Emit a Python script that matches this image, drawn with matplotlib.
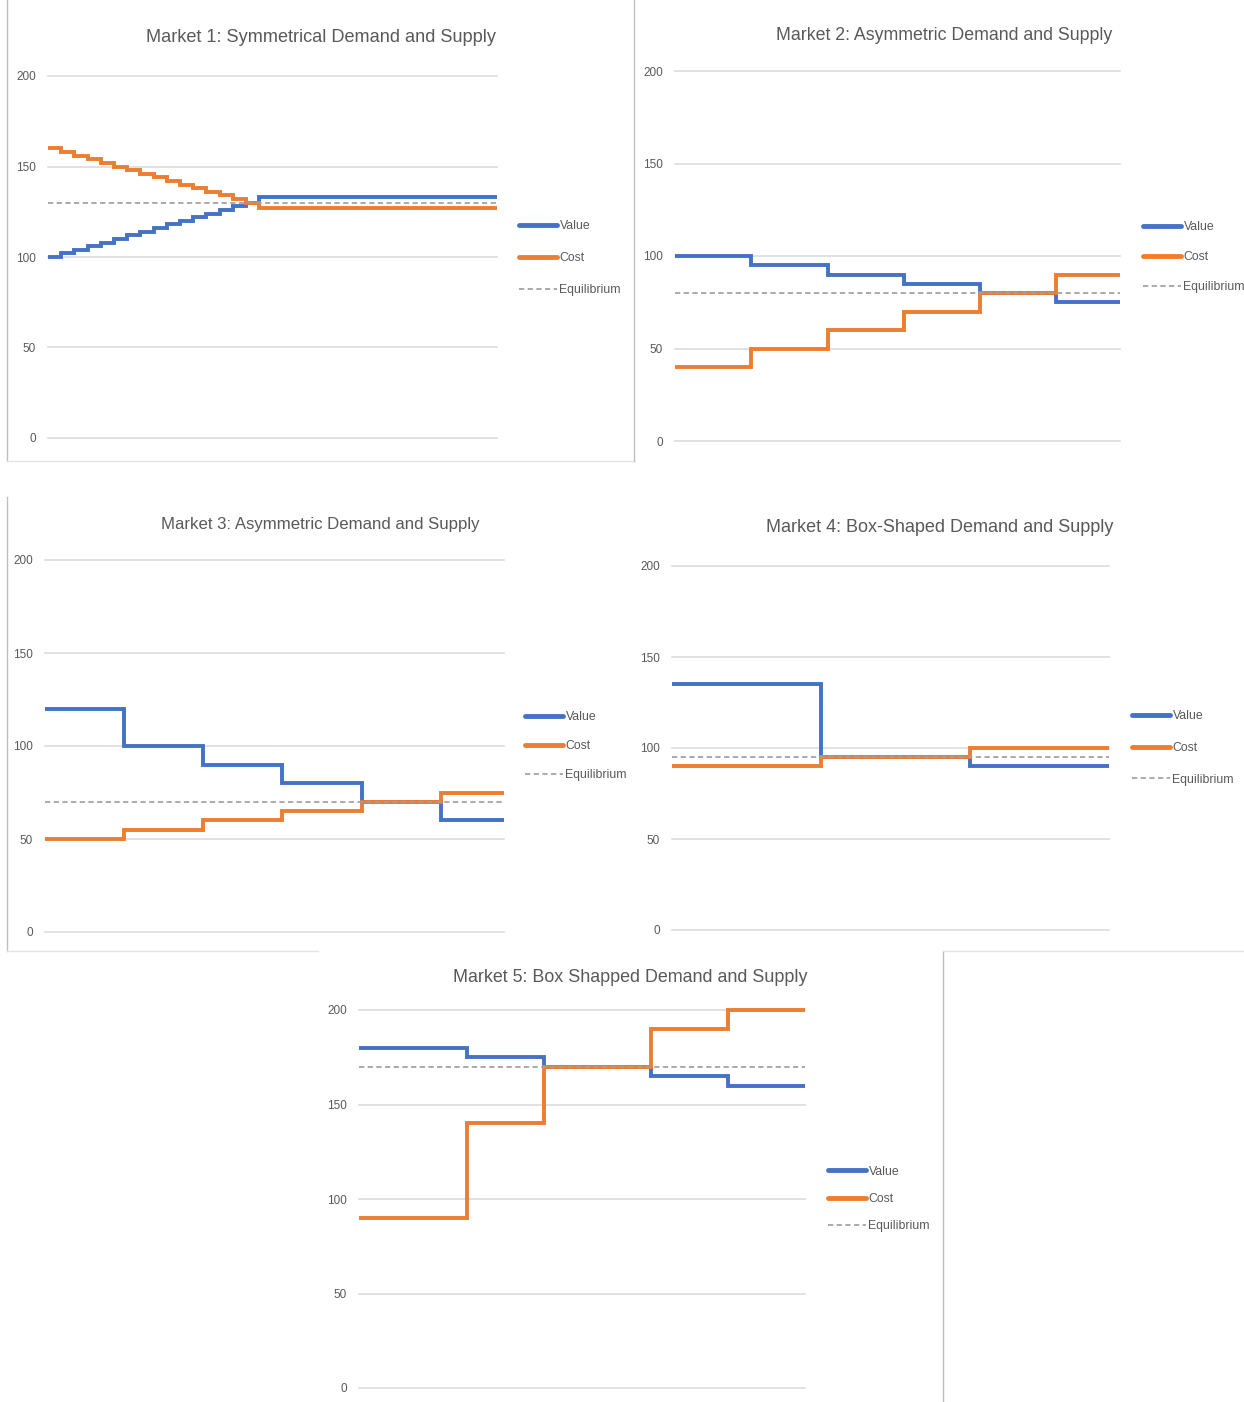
import matplotlib
matplotlib.use("Agg")
import matplotlib.pyplot as plt
from matplotlib.lines import Line2D
import numpy as np

plt.rcParams['font.family'] = ['Liberation Sans', 'DejaVu Sans']

# ---------------- data ----------------
series_names = ["Value", "Cost", "Equilibrium"]
y_ticks = [0, 50, 100, 150, 200]

m1_title = "Market 1: Symmetrical Demand and Supply"
m1_widths = [1, 1, 1, 1, 1, 1, 1, 1, 1, 1, 1, 1, 1, 1, 1, 1, 18]
m1_value = [100, 102, 104, 106, 108, 110, 112, 114, 116, 118, 120, 122, 124, 126, 128, 130, 133]
m1_cost = [160, 158, 156, 154, 152, 150, 148, 146, 144, 142, 140, 138, 136, 134, 132, 130, 127]
m1_eq = 130

m2_title = "Market 2: Asymmetric Demand and Supply"
m2_widths = [6, 6, 6, 6, 6, 5]
m2_value = [100, 95, 90, 85, 80, 75]
m2_cost = [40, 50, 60, 70, 80, 90]
m2_eq = 80

m3_title = "Market 3: Asymmetric Demand and Supply"
m3_widths = [5, 5, 5, 5, 5, 4]
m3_value = [120, 100, 90, 80, 70, 60]
m3_cost = [50, 55, 60, 65, 70, 75]
m3_eq = 70

m4_title = "Market 4: Box-Shaped Demand and Supply"
m4_widths = [15, 15, 14]
m4_value = [135, 95, 90]
m4_cost = [90, 95, 100]
m4_eq = 95

m5_title = "Market 5: Box Shapped Demand and Supply"
m5_widths = [7, 5, 7, 5, 5]
m5_value = [180, 175, 170, 165, 160]
m5_cost = [90, 140, 170, 190, 200]
m5_eq = 170

# ---------------- style ----------------
W, H = 1244, 1402
BLUE = "#4472C4"
ORANGE = "#ED7D31"
EQ_GRAY = "#A0A0A0"
TEXT = "#595959"
GRID = "#D9D9D9"
LW = 2.8

fig = plt.figure(figsize=(W / 100, H / 100), dpi=100)
fig.patch.set_facecolor("white")


def fig_xy(px, py):
    return px / W, 1 - py / H


def draw_market(rect_px, title, title_px, title_size, widths, value, cost, eq,
                legend_px, legend_pitch):
    x0, y0, x1, y1 = rect_px
    ax = fig.add_axes([x0 / W, 1 - y1 / H, (x1 - x0) / W, (y1 - y0) / H])
    edges = np.concatenate([[0], np.cumsum(widths)])

    ax.stairs(value, edges, baseline=None, color=BLUE, lw=LW, clip_on=False, zorder=3)
    ax.stairs(cost, edges, baseline=None, color=ORANGE, lw=LW, clip_on=False, zorder=4)
    ax.plot([edges[0], edges[-1]], [eq, eq], color=EQ_GRAY, lw=1.25,
            linestyle=(0, (3, 2)), zorder=5)

    ax.set_xlim(edges[0], edges[-1])
    ax.set_ylim(0, 200)
    ax.set_yticks(y_ticks)
    ax.set_xticks([])
    ax.grid(axis="y", color=GRID, lw=1.1)
    for gl in ax.get_ygridlines():
        gl.set_clip_on(False)
    ax.set_axisbelow(True)
    for s in ax.spines.values():
        s.set_visible(False)
    ax.tick_params(axis="y", length=0, pad=8.5, labelsize=8.5, labelcolor=TEXT)
    ax.patch.set_alpha(0)

    tx, ty = fig_xy(*title_px)
    fig.text(tx, ty, title, ha="center", va="center", fontsize=title_size, color=TEXT)

    handles = [
        Line2D([], [], color=BLUE, lw=LW + 0.7, solid_capstyle="round"),
        Line2D([], [], color=ORANGE, lw=LW + 0.7, solid_capstyle="round"),
        Line2D([], [], color=EQ_GRAY, lw=1.25, linestyle=(0, (3, 2))),
    ]
    fs = 8.8
    fs_px = fs * 100 / 72
    lx, ly = fig_xy(*legend_px)
    ax.legend(handles, series_names, loc="center left", bbox_to_anchor=(lx, ly),
              bbox_transform=fig.transFigure, frameon=False, fontsize=fs,
              labelcolor=TEXT, handlelength=38 / fs_px, handletextpad=0.2,
              labelspacing=(legend_pitch - 1.0 * fs_px) / fs_px,
              borderpad=0, borderaxespad=0)
    return ax


draw_market((48, 76, 497, 438), m1_title, (321, 37), 13.1, m1_widths, m1_value, m1_cost, m1_eq,
            (519, 258), 32)
draw_market((675, 71, 1120, 441), m2_title, (944, 35), 12.8, m2_widths, m2_value, m2_cost, m2_eq,
            (1143, 257), 30)
draw_market((45, 560, 504, 932), m3_title, (320, 525), 12.1, m3_widths, m3_value, m3_cost, m3_eq,
            (525, 746), 29)
draw_market((672, 566, 1109, 930), m4_title, (940, 528), 13.0, m4_widths, m4_value, m4_cost, m4_eq,
            (1132, 748), 32)
draw_market((359, 1010, 805, 1388), m5_title, (630, 977), 12.9, m5_widths, m5_value, m5_cost, m5_eq,
            (828, 1199), 27.5)

# chart-area frame edges
frame_edges = [
    ((7, 0), (7, 461), "#BFBFBF"),
    ((7, 461), (634, 461), "#E3E3E3"),
    ((634, 0), (634, 461), "#BFBFBF"),
    ((7, 497), (7, 951), "#BFBFBF"),
    ((7, 951), (318, 951), "#E3E3E3"),
    ((943, 951), (943, 1402), "#BFBFBF"),
    ((943, 951), (1244, 951), "#E3E3E3"),
]
for (ax0, ay0), (ax1, ay1), col in frame_edges:
    p0 = fig_xy(ax0, ay0)
    p1 = fig_xy(ax1, ay1)
    fig.add_artist(Line2D([p0[0], p1[0]], [p0[1], p1[1]], transform=fig.transFigure,
                          color=col, lw=1.0))

fig.savefig("out.png", dpi=100, facecolor="white")
